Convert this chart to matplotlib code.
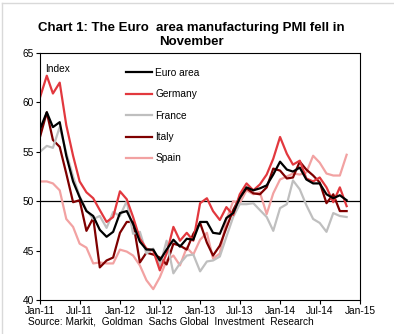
import matplotlib
matplotlib.use('Agg')
import matplotlib.pyplot as plt
import matplotlib.dates as mdates
import pandas as pd

plt.rcParams['font.family'] = ['Liberation Sans', 'DejaVu Sans']

# Monthly manufacturing PMI, Jan-11 .. Nov-14
months = pd.date_range('2011-01-01', periods=47, freq='MS')

euro_area = [57.3, 59.0, 57.5, 58.0, 54.6, 52.0, 50.4, 49.0, 48.5, 47.1, 46.4, 46.9,
             48.8, 49.0, 47.7, 45.9, 45.1, 45.1, 44.0, 45.1, 46.1, 45.4, 46.2, 46.1,
             47.9, 47.9, 46.8, 46.7, 48.3, 48.8, 50.3, 51.4, 51.1, 51.3, 51.6, 52.7,
             54.0, 53.2, 53.0, 53.4, 52.2, 51.8, 51.8, 50.7, 50.3, 50.6, 50.1]
germany = [60.5, 62.7, 60.9, 62.0, 57.7, 54.6, 52.0, 50.9, 50.3, 49.1, 47.9, 48.4,
           51.0, 50.2, 48.4, 46.2, 45.2, 45.0, 43.0, 44.7, 47.4, 46.0, 46.8, 46.0,
           49.8, 50.3, 49.0, 48.1, 49.4, 48.6, 50.7, 51.8, 51.1, 51.7, 52.7, 54.3,
           56.5, 54.8, 53.7, 54.1, 52.3, 52.0, 52.4, 51.4, 49.9, 51.4, 49.5]
france = [55.0, 55.6, 55.4, 57.5, 54.9, 52.5, 50.5, 49.1, 48.2, 48.5, 47.3, 48.9,
          48.5, 50.0, 46.7, 46.9, 44.7, 45.2, 43.4, 46.0, 42.7, 43.7, 44.5, 44.6,
          42.9, 43.9, 44.0, 44.4, 46.4, 48.4, 49.7, 49.7, 49.8, 49.1, 48.4, 47.0,
          49.3, 49.7, 52.1, 51.2, 49.6, 48.2, 47.8, 46.9, 48.8, 48.5, 48.4]
italy = [56.5, 59.0, 56.2, 55.5, 52.8, 49.9, 50.1, 47.0, 48.3, 43.3, 44.0, 44.3,
         46.8, 47.9, 47.9, 43.8, 44.8, 44.6, 44.3, 43.6, 45.7, 45.5, 45.1, 46.7,
         47.8, 45.8, 44.5, 45.5, 47.3, 49.1, 50.4, 51.3, 50.8, 50.7, 51.4, 53.3,
         53.1, 52.3, 52.4, 54.0, 53.2, 52.6, 51.9, 49.8, 50.7, 49.0, 49.0]
spain = [52.0, 52.0, 51.8, 51.1, 48.2, 47.4, 45.7, 45.3, 43.7, 43.8, 43.7, 43.7,
         45.1, 44.9, 44.5, 43.5, 42.0, 41.1, 42.3, 44.0, 44.5, 43.5, 45.3, 44.6,
         46.1, 46.8, 44.2, 44.7, 48.1, 50.0, 49.8, 51.1, 50.7, 50.9, 48.7, 50.8,
         52.2, 52.5, 52.8, 52.7, 52.9, 54.6, 53.9, 52.8, 52.6, 52.6, 54.7]

series = [('Euro area', euro_area, '#000000'),
          ('Germany', germany, '#E2383E'),
          ('France', france, '#BFBFBF'),
          ('Italy', italy, '#7F0000'),
          ('Spain', spain, '#F2A2A2')]

fig = plt.figure(figsize=(3.94, 3.34), dpi=100)
ax = fig.add_axes([40 / 394, 34 / 334, 320 / 394, 247 / 334])

ax.axhline(50, color='black', linewidth=0.9, zorder=1)

# draw Spain first so darker series sit on top
for name, vals, col in reversed(series):
    ax.plot(months, vals, color=col, linewidth=1.6, label=name, zorder=2)

ax.set_ylim(40, 65)
ax.set_yticks([40, 45, 50, 55, 60, 65])
ax.set_xlim(pd.Timestamp('2011-01-01'), pd.Timestamp('2015-01-01'))
ticks = pd.date_range('2011-01-01', '2015-01-01', freq='6MS')
ax.set_xticks(ticks)
ax.xaxis.set_major_formatter(mdates.DateFormatter('%b-%y'))
ax.tick_params(axis='both', labelsize=7.3, direction='out', length=3, width=0.8, pad=1.5)

for s in ax.spines.values():
    s.set_linewidth(0.8)

ax.text(0.015, 0.955, 'Index', transform=ax.transAxes, fontsize=7.3,
        ha='left', va='top')

handles, labels = ax.get_legend_handles_labels()
handles, labels = handles[::-1], labels[::-1]
fig.legend(handles, labels, loc='upper left',
           bbox_to_anchor=(126 / 394, 1 - 68 / 334), bbox_transform=fig.transFigure,
           frameon=False, fontsize=7.3, handlelength=2.6, handletextpad=0.3,
           labelspacing=1.12, borderpad=0, borderaxespad=0)

fig.text(191 / 394, 1 - 35 / 334, 'Chart 1: The Euro  area manufacturing PMI fell in\nNovember',
         ha='center', va='center', fontsize=9.5, fontweight='bold', linespacing=1.2)
fig.text(28 / 394, 1 - 322 / 334, 'Source: Markit,  Goldman  Sachs Global  Investment  Research',
         ha='left', va='center', fontsize=7.3)

# faint chart border on left/top
fig.add_artist(plt.Line2D([0.004, 0.004], [0, 0.99], transform=fig.transFigure,
                          color='#D9D9D9', linewidth=1))
fig.add_artist(plt.Line2D([0.004, 1], [0.99, 0.99], transform=fig.transFigure,
                          color='#D9D9D9', linewidth=1))

fig.savefig('out.png', dpi=100)
